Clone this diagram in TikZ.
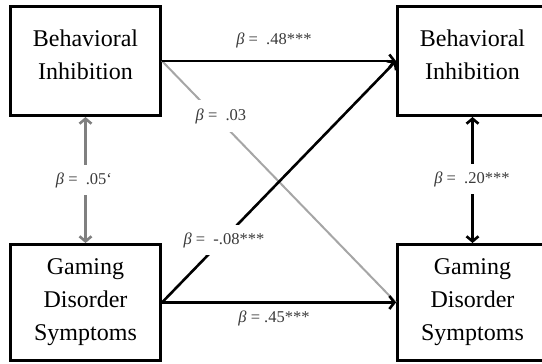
\documentclass[tikz,border=0pt]{standalone}
\usepackage{fontspec}
\setmainfont{Liberation Serif}
\usetikzlibrary{arrows.meta}
\definecolor{labcol}{HTML}{3A3A3A}
\definecolor{midgray}{HTML}{808080}
\definecolor{lightgray}{HTML}{A6A6A6}
\tikzset{
  varbox/.style={draw=black, line width=3pt, rectangle, inner sep=0pt,
    minimum width=150pt, align=center, font=\fontsize{24}{33}\selectfont},
  coef/.style={font=\fontsize{16.5}{19}\selectfont, text=labcol, inner sep=1pt},
  coefw/.style={coef, fill=white, inner xsep=2pt, inner ysep=6pt},
  blackarrow/.style={draw=black, line width=2.6pt, -{Straight Barb[length=5pt,width=13pt]}},
  grayarrow/.style={draw=midgray, line width=2.6pt, {Straight Barb[length=5pt,width=12pt]}-{Straight Barb[length=5pt,width=12pt]}},
  blackdouble/.style={draw=black, line width=2.6pt, {Straight Barb[length=5pt,width=12pt]}-{Straight Barb[length=5pt,width=12pt]}},
  lightline/.style={draw=lightgray, line width=2pt}
}
\begin{document}
\begin{tikzpicture}[x=1pt,y=-1pt]
\useasboundingbox (0,0) rectangle (542,364);
\node[varbox, minimum height=109pt] (tl) at (85.5,61) {Behavioral\\Inhibition\rule[-13pt]{0pt}{13pt}};
\node[varbox, minimum height=109pt] (tr) at (472.5,61) {Behavioral\\Inhibition\rule[-13pt]{0pt}{13pt}};
\node[varbox, minimum height=116pt] (bl) at (85.5,302.5) {Gaming\\Disorder\\Symptoms};
\node[varbox, minimum height=116pt] (br) at (472.5,302.5) {Gaming\\Disorder\\Symptoms};
% connectors
\draw[lightline] (tl.east) -- (br.west);
\draw[blackarrow] (tl.east) -- (tr.west);
\draw[blackarrow] (bl.east) -- (tr.west);
\draw[blackarrow] (bl.east) -- (br.west);
\draw[grayarrow] (tl.south) -- (bl.north);
\draw[blackdouble] (tr.south) -- (br.north);
% labels
\node[coef] (l48) at (274,40) {\textit{β} =\ \ .48***};
\node[coefw, inner ysep=8pt] (l03) at (221,116) {\textit{β} = \ .03};
\node[coefw, inner ysep=7pt] (l05) at (84,180) {\textit{β} = \ .05{\char"60}};
\node[coefw, inner ysep=7pt] (l20) at (472,179) {\textit{β} = \ .20***};
\node[coefw, inner ysep=7pt] (l08) at (224,240) {\textit{β} = \ -.08***};
\node[coef] (l45) at (274,318) {\textit{β} = .45***};
\end{tikzpicture}
\end{document}
